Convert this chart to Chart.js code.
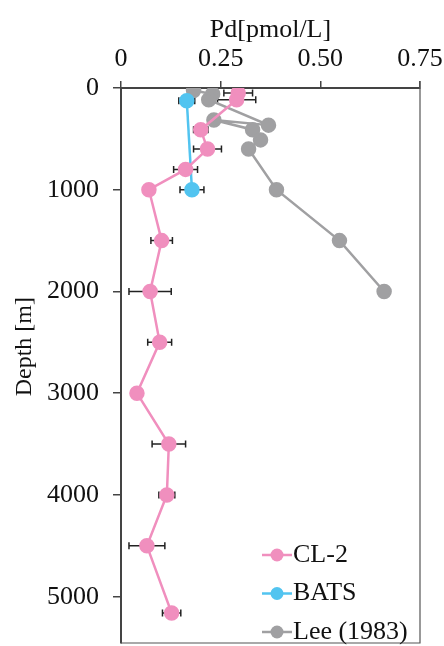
<!DOCTYPE html>
<html>
<head>
<meta charset="utf-8">
<script src="https://cdn.jsdelivr.net/npm/chart.js@4.4.1/dist/chart.umd.min.js"></script>
<style>
  html, body { margin: 0; padding: 0; background: #fff; }
  #wrap { width: 444px; height: 646px; position: relative; }
</style>
</head>
<body>
<div id="wrap"><canvas id="chart"></canvas></div>
<script>
// CL-2 profile (Pd, depth, +/- error)
const cl2Pd    = [0.294, 0.29, 0.20, 0.217, 0.162, 0.07, 0.102, 0.073, 0.097, 0.04, 0.12, 0.115, 0.065, 0.127];
const cl2Depth = [50, 115, 410, 600, 800, 1000, 1500, 2000, 2500, 3000, 3500, 4000, 4500, 5160];
const cl2Err   = [0.036, 0.048, 0.018, 0.035, 0.03, 0, 0.027, 0.053, 0.03, 0, 0.042, 0.02, 0.045, 0.023];

// BATS
const batsPd    = [0.165, 0.178];
const batsDepth = [125, 1000];
const batsErr   = [0.02, 0.03];

// Lee (1983) - kept in the original plotting order
const leePd    = [0.182, 0.23, 0.22, 0.37, 0.233, 0.33, 0.35, 0.32, 0.39, 0.548, 0.66];
const leeDepth = [25, 60, 115, 365, 315, 410, 510, 600, 1000, 1500, 2000];

const xTickValues = [0, 0.25, 0.5, 0.75];
const xTickLabels = ["0", "0.25", "0.50", "0.75"];
const depthTickValues = [0, 1000, 2000, 3000, 4000, 5000];
const depthTickLabels = ["0", "1000", "2000", "3000", "4000", "5000"];
const depthTitle = "Depth [m]";

const serif = '"Liberation Serif", "Times New Roman", serif';

function pts(xs, ys) {
  return xs.map((x, i) => ({ x: x, y: ys[i] }));
}

// horizontal error bars + right/bottom frame + depth title
const errorBars = {
  id: "errorBars",
  beforeDatasetsDraw(chart) {
    const ctx = chart.ctx, sx = chart.scales.x, sy = chart.scales.y;
    const a = chart.chartArea;
    ctx.save();
    ctx.strokeStyle = "#555";
    ctx.lineWidth = 1.2;
    ctx.beginPath();
    ctx.moveTo(a.right, a.top - 7);
    ctx.lineTo(a.right, a.bottom);
    ctx.lineTo(a.left, a.bottom);
    ctx.stroke();

    ctx.strokeStyle = "#222";
    ctx.lineWidth = 1.5;
    chart.data.datasets.forEach(ds => {
      if (!ds.errors) return;
      ds.data.forEach((p, i) => {
        const e = ds.errors[i];
        if (!e) return;
        const y = sy.getPixelForValue(p.y);
        const x1 = sx.getPixelForValue(p.x - e);
        const x2 = sx.getPixelForValue(p.x + e);
        ctx.beginPath();
        ctx.moveTo(x1, y); ctx.lineTo(x2, y);
        ctx.moveTo(x1, y - 3.5); ctx.lineTo(x1, y + 3.5);
        ctx.moveTo(x2, y - 3.5); ctx.lineTo(x2, y + 3.5);
        ctx.stroke();
      });
    });

    // y axis title, a little above the middle like the original
    ctx.translate(25, a.top + (a.bottom - a.top) * 0.466);
    ctx.rotate(-Math.PI / 2);
    ctx.fillStyle = "#111";
    ctx.font = "24px " + serif;
    ctx.textAlign = "center";
    ctx.textBaseline = "middle";
    ctx.fillText(depthTitle, 0, 0);
    ctx.restore();
  }
};

// legend in the lower right corner of the plot
const cornerLegend = {
  id: "cornerLegend",
  afterDatasetsDraw(chart) {
    const ctx = chart.ctx, a = chart.chartArea;
    ctx.save();
    chart.data.datasets.forEach((ds, i) => {
      const y = a.bottom - 88 + i * 38.5;
      const x0 = a.right - 158;
      ctx.strokeStyle = ds.borderColor;
      ctx.lineWidth = 2.5;
      ctx.beginPath();
      ctx.moveTo(x0, y); ctx.lineTo(x0 + 30, y);
      ctx.stroke();
      ctx.fillStyle = ds.backgroundColor;
      ctx.beginPath();
      ctx.arc(x0 + 15, y, 6.5, 0, Math.PI * 2);
      ctx.fill();
      ctx.fillStyle = "#111";
      ctx.font = "26px " + serif;
      ctx.textBaseline = "middle";
      ctx.fillText(ds.label, x0 + 31, y);
    });
    ctx.restore();
  }
};

const pink = "rgb(240,143,190)";
const blue = "rgb(82,196,240)";
const gray = "rgb(160,160,162)";

new Chart(document.getElementById("chart"), {
  type: "line",
  data: {
    datasets: [
      { label: "CL-2", data: pts(cl2Pd, cl2Depth), errors: cl2Err,
        borderColor: pink, backgroundColor: pink, pointRadius: 6.5, borderWidth: 2.5 },
      { label: "BATS", data: pts(batsPd, batsDepth), errors: batsErr,
        borderColor: blue, backgroundColor: blue, pointRadius: 6.5, borderWidth: 2.5 },
      { label: "Lee (1983)", data: pts(leePd, leeDepth),
        borderColor: gray, backgroundColor: gray, pointRadius: 6.5, borderWidth: 2.5 }
    ]
  },
  options: {
    responsive: true,
    maintainAspectRatio: false,
    animation: false,
    layout: { autoPadding: false, padding: { right: 24, bottom: 3 } },
    plugins: { legend: { display: false }, tooltip: { enabled: false } },
    scales: {
      x: {
        type: "linear",
        position: "top",
        min: 0, max: 0.75,
        afterFit: s => { s.height = 88; s.paddingLeft = 0; s.paddingRight = 0; },
        afterBuildTicks: s => { s.ticks = xTickValues.map(v => ({ value: v })); },
        grid: { drawOnChartArea: false, tickLength: 7, color: "#444", lineWidth: 1.5 },
        border: { color: "#444", width: 2 },
        ticks: {
          color: "#111", font: { family: serif, size: 26 }, padding: 6,
          callback: v => xTickLabels[xTickValues.indexOf(v)]
        },
        title: { display: true, text: "Pd[pmol/L]", color: "#111",
          font: { family: serif, size: 26 }, padding: { top: 15, bottom: 0 } }
      },
      y: {
        type: "linear",
        reverse: true,
        min: 0, max: 5455,
        afterFit: s => { s.width = 121; s.paddingTop = 0; s.paddingBottom = 0; },
        afterBuildTicks: s => { s.ticks = depthTickValues.map(v => ({ value: v })); },
        grid: { drawOnChartArea: false, tickLength: 8, color: "#444", lineWidth: 1.5 },
        border: { color: "#444", width: 2 },
        ticks: {
          color: "#111", font: { family: serif, size: 26 }, padding: 14,
          callback: v => depthTickLabels[depthTickValues.indexOf(v)]
        },
        title: { display: false }
      }
    }
  },
  plugins: [errorBars, cornerLegend]
});
</script>
</body>
</html>
